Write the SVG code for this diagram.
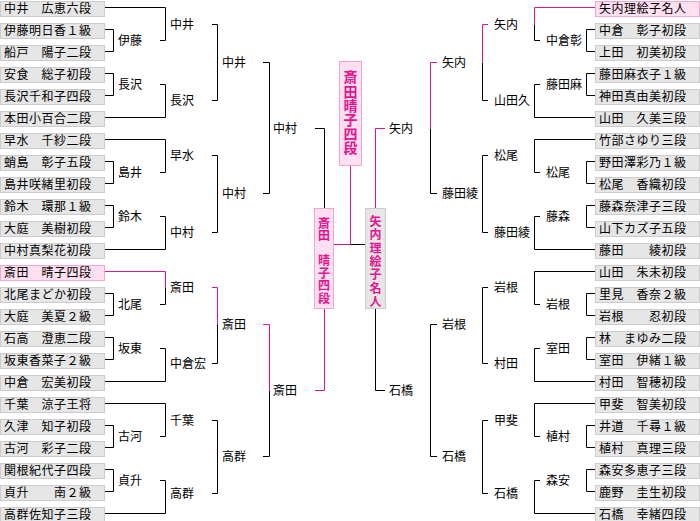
<svg xmlns="http://www.w3.org/2000/svg" width="700" height="521" viewBox="0 0 700 521">
<style>
text{font-family:"Noto Sans CJK JP","Noto Sans CJK SC",sans-serif;font-size:12px;fill:#000}
.bx{fill:#e6e6e6;stroke:#cccccc;stroke-width:1}
.pk{fill:#ffdff0;stroke:#f2a6d2;stroke-width:1}
.b{fill:none;stroke:#000;stroke-width:1}
.p{fill:none;stroke:#e5138e;stroke-width:1}
.v{fill:#e5138e;font-weight:bold;writing-mode:vertical-rl;text-orientation:upright}
.v14{font-size:14px}
</style>
<rect width="700" height="521" fill="#fff"/>
<g id="left-players">
<g id="L0"><rect class="bx" x="0.5" y="1.5" width="104" height="15"/><text x="4" y="13" textLength="87" lengthAdjust="spacing">中井　広恵六段</text></g>
<g id="L1"><rect class="bx" x="0.5" y="23.5" width="104" height="15"/><text x="4" y="35" textLength="87" lengthAdjust="spacing">伊藤明日香１級</text></g>
<g id="L2"><rect class="bx" x="0.5" y="45.5" width="104" height="15"/><text x="4" y="57" textLength="87" lengthAdjust="spacing">船戸　陽子二段</text></g>
<g id="L3"><rect class="bx" x="0.5" y="67.5" width="104" height="15"/><text x="4" y="79" textLength="87" lengthAdjust="spacing">安食　総子初段</text></g>
<g id="L4"><rect class="bx" x="0.5" y="89.5" width="104" height="15"/><text x="4" y="101" textLength="87" lengthAdjust="spacing">長沢千和子四段</text></g>
<g id="L5"><rect class="bx" x="0.5" y="111.5" width="104" height="15"/><text x="4" y="123" textLength="87" lengthAdjust="spacing">本田小百合二段</text></g>
<g id="L6"><rect class="bx" x="0.5" y="133.5" width="104" height="15"/><text x="4" y="145" textLength="87" lengthAdjust="spacing">早水　千紗二段</text></g>
<g id="L7"><rect class="bx" x="0.5" y="155.5" width="104" height="15"/><text x="4" y="167" textLength="87" lengthAdjust="spacing">蛸島　彰子五段</text></g>
<g id="L8"><rect class="bx" x="0.5" y="177.5" width="104" height="15"/><text x="4" y="189" textLength="87" lengthAdjust="spacing">島井咲緒里初段</text></g>
<g id="L9"><rect class="bx" x="0.5" y="199.5" width="104" height="15"/><text x="4" y="211" textLength="87" lengthAdjust="spacing">鈴木　環那１級</text></g>
<g id="L10"><rect class="bx" x="0.5" y="221.5" width="104" height="15"/><text x="4" y="233" textLength="87" lengthAdjust="spacing">大庭　美樹初段</text></g>
<g id="L11"><rect class="bx" x="0.5" y="243.5" width="104" height="15"/><text x="4" y="255" textLength="87" lengthAdjust="spacing">中村真梨花初段</text></g>
<g id="L12"><rect class="pk" x="0.5" y="265.5" width="104" height="15"/><text x="4" y="277" textLength="87" lengthAdjust="spacing">斎田　晴子四段</text></g>
<g id="L13"><rect class="bx" x="0.5" y="287.5" width="104" height="15"/><text x="4" y="299" textLength="87" lengthAdjust="spacing">北尾まどか初段</text></g>
<g id="L14"><rect class="bx" x="0.5" y="309.5" width="104" height="15"/><text x="4" y="321" textLength="87" lengthAdjust="spacing">大庭　美夏２級</text></g>
<g id="L15"><rect class="bx" x="0.5" y="331.5" width="104" height="15"/><text x="4" y="343" textLength="87" lengthAdjust="spacing">石高　澄恵二段</text></g>
<g id="L16"><rect class="bx" x="0.5" y="353.5" width="104" height="15"/><text x="4" y="365" textLength="87" lengthAdjust="spacing">坂東香菜子２級</text></g>
<g id="L17"><rect class="bx" x="0.5" y="375.5" width="104" height="15"/><text x="4" y="387" textLength="87" lengthAdjust="spacing">中倉　宏美初段</text></g>
<g id="L18"><rect class="bx" x="0.5" y="397.5" width="104" height="15"/><text x="4" y="409" textLength="87" lengthAdjust="spacing">千葉　涼子王将</text></g>
<g id="L19"><rect class="bx" x="0.5" y="419.5" width="104" height="15"/><text x="4" y="431" textLength="87" lengthAdjust="spacing">久津　知子初段</text></g>
<g id="L20"><rect class="bx" x="0.5" y="441.5" width="104" height="15"/><text x="4" y="453" textLength="87" lengthAdjust="spacing">古河　彩子二段</text></g>
<g id="L21"><rect class="bx" x="0.5" y="463.5" width="104" height="15"/><text x="4" y="475" textLength="87" lengthAdjust="spacing">関根紀代子四段</text></g>
<g id="L22"><rect class="bx" x="0.5" y="485.5" width="104" height="15"/><text x="4" y="497" textLength="87" lengthAdjust="spacing">貞升　　南２級</text></g>
<g id="L23"><rect class="bx" x="0.5" y="507.5" width="104" height="15"/><text x="4" y="519" textLength="87" lengthAdjust="spacing">高群佐知子三段</text></g>
</g>
<g id="right-players">
<g id="R0"><rect class="pk" x="595.5" y="1.5" width="104" height="15"/><text x="599" y="13" textLength="87" lengthAdjust="spacing">矢内理絵子名人</text></g>
<g id="R1"><rect class="bx" x="595.5" y="23.5" width="104" height="15"/><text x="599" y="35" textLength="87" lengthAdjust="spacing">中倉　彰子初段</text></g>
<g id="R2"><rect class="bx" x="595.5" y="45.5" width="104" height="15"/><text x="599" y="57" textLength="87" lengthAdjust="spacing">上田　初美初段</text></g>
<g id="R3"><rect class="bx" x="595.5" y="67.5" width="104" height="15"/><text x="599" y="79" textLength="87" lengthAdjust="spacing">藤田麻衣子１級</text></g>
<g id="R4"><rect class="bx" x="595.5" y="89.5" width="104" height="15"/><text x="599" y="101" textLength="87" lengthAdjust="spacing">神田真由美初段</text></g>
<g id="R5"><rect class="bx" x="595.5" y="111.5" width="104" height="15"/><text x="599" y="123" textLength="87" lengthAdjust="spacing">山田　久美三段</text></g>
<g id="R6"><rect class="bx" x="595.5" y="133.5" width="104" height="15"/><text x="599" y="145" textLength="87" lengthAdjust="spacing">竹部さゆり三段</text></g>
<g id="R7"><rect class="bx" x="595.5" y="155.5" width="104" height="15"/><text x="599" y="167" textLength="87" lengthAdjust="spacing">野田澤彩乃１級</text></g>
<g id="R8"><rect class="bx" x="595.5" y="177.5" width="104" height="15"/><text x="599" y="189" textLength="87" lengthAdjust="spacing">松尾　香織初段</text></g>
<g id="R9"><rect class="bx" x="595.5" y="199.5" width="104" height="15"/><text x="599" y="211" textLength="87" lengthAdjust="spacing">藤森奈津子三段</text></g>
<g id="R10"><rect class="bx" x="595.5" y="221.5" width="104" height="15"/><text x="599" y="233" textLength="87" lengthAdjust="spacing">山下カズ子五段</text></g>
<g id="R11"><rect class="bx" x="595.5" y="243.5" width="104" height="15"/><text x="599" y="255" textLength="87" lengthAdjust="spacing">藤田　　綾初段</text></g>
<g id="R12"><rect class="bx" x="595.5" y="265.5" width="104" height="15"/><text x="599" y="277" textLength="87" lengthAdjust="spacing">山田　朱未初段</text></g>
<g id="R13"><rect class="bx" x="595.5" y="287.5" width="104" height="15"/><text x="599" y="299" textLength="87" lengthAdjust="spacing">里見　香奈２級</text></g>
<g id="R14"><rect class="bx" x="595.5" y="309.5" width="104" height="15"/><text x="599" y="321" textLength="87" lengthAdjust="spacing">岩根　　忍初段</text></g>
<g id="R15"><rect class="bx" x="595.5" y="331.5" width="104" height="15"/><text x="599" y="343" textLength="87" lengthAdjust="spacing">林　まゆみ二段</text></g>
<g id="R16"><rect class="bx" x="595.5" y="353.5" width="104" height="15"/><text x="599" y="365" textLength="87" lengthAdjust="spacing">室田　伊緒１級</text></g>
<g id="R17"><rect class="bx" x="595.5" y="375.5" width="104" height="15"/><text x="599" y="387" textLength="87" lengthAdjust="spacing">村田　智穂初段</text></g>
<g id="R18"><rect class="bx" x="595.5" y="397.5" width="104" height="15"/><text x="599" y="409" textLength="87" lengthAdjust="spacing">甲斐　智美初段</text></g>
<g id="R19"><rect class="bx" x="595.5" y="419.5" width="104" height="15"/><text x="599" y="431" textLength="87" lengthAdjust="spacing">井道　千尋１級</text></g>
<g id="R20"><rect class="bx" x="595.5" y="441.5" width="104" height="15"/><text x="599" y="453" textLength="87" lengthAdjust="spacing">植村　真理三段</text></g>
<g id="R21"><rect class="bx" x="595.5" y="463.5" width="104" height="15"/><text x="599" y="475" textLength="87" lengthAdjust="spacing">森安多恵子三段</text></g>
<g id="R22"><rect class="bx" x="595.5" y="485.5" width="104" height="15"/><text x="599" y="497" textLength="87" lengthAdjust="spacing">鹿野　圭生初段</text></g>
<g id="R23"><rect class="bx" x="595.5" y="507.5" width="104" height="15"/><text x="599" y="519" textLength="87" lengthAdjust="spacing">石橋　幸緒四段</text></g>
</g>
<g id="connectors">
<path class="b" d="M105 29.5H113.5V51.5H105M105 73.5H113.5V95.5H105M105 161.5H113.5V183.5H105M105 205.5H113.5V227.5H105M105 293.5H113.5V315.5H105M105 337.5H113.5V359.5H105M105 425.5H113.5V447.5H105M105 469.5H113.5V491.5H105"/>
<path class="b" d="M105 7.5H165.5V40.5H160M160 84.5H165.5V117.5H105M105 139.5H165.5V172.5H160M160 216.5H165.5V249.5H105M165.5 287.5V304.5H160M160 348.5H165.5V381.5H105M105 403.5H165.5V436.5H160M160 480.5H165.5V513.5H105"/>
<path class="p" d="M105 271.5H165.5V287.5"/>
<path class="b" d="M212 24.5H217.5V100.5H212M212 155.5H217.5V232.5H212M217.5 324.5V363.5H212M212 420.5H217.5V493.5H212"/>
<path class="p" d="M212 287.5H217.5V324.5"/>
<path class="b" d="M263 62.5H269.5V193.5H263M269.5 390.5V456.5H263"/>
<path class="p" d="M263 324.5H269.5V390.5"/>
<path class="b" d="M315 128.5H324.5V208"/>
<path class="p" d="M315 390.5H324.5V309"/>
<path class="b" d="M595 29.5H586.5V51.5H595M595 73.5H586.5V95.5H595M595 161.5H586.5V183.5H595M595 205.5H586.5V227.5H595M595 293.5H586.5V315.5H595M595 337.5H586.5V359.5H595M595 425.5H586.5V447.5H595M595 469.5H586.5V491.5H595"/>
<path class="b" d="M534.5 24.5V40.5H540M540 84.5H534.5V117.5H595M595 139.5H534.5V172.5H540M540 216.5H534.5V249.5H595M595 271.5H534.5V304.5H540M540 348.5H534.5V381.5H595M595 403.5H534.5V436.5H540M540 480.5H534.5V513.5H595"/>
<path class="p" d="M595 7.5H534.5V24.5"/>
<path class="b" d="M482.5 62.5V100.5H488M488 155.5H482.5V232.5H488M488 287.5H482.5V363.5H488M488 420.5H482.5V493.5H488"/>
<path class="p" d="M488 24.5H482.5V62.5"/>
<path class="b" d="M430.5 128.5V193.5H437M437 324.5H430.5V456.5H437"/>
<path class="p" d="M437 62.5H430.5V128.5"/>
<path class="b" d="M375.5 309V390.5H385"/>
<path class="p" d="M385 128.5H375.5V208"/>
<path class="p" d="M334 244.5H350.5M350.5 166V244.5"/>
<path class="b" d="M350.5 244.5H365"/>
</g>
<g id="left-labels">
<text x="118" y="45">伊藤</text><text x="118" y="89">長沢</text><text x="118" y="177">島井</text><text x="118" y="221">鈴木</text>
<text x="118" y="309">北尾</text><text x="118" y="353">坂東</text><text x="118" y="441">古河</text><text x="118" y="485">貞升</text>
<text x="170" y="29">中井</text><text x="170" y="105">長沢</text><text x="170" y="160">早水</text><text x="170" y="237">中村</text>
<text x="170" y="292">斎田</text><text x="170" y="368">中倉宏</text><text x="170" y="425">千葉</text><text x="170" y="498">高群</text>
<text x="222" y="67">中井</text><text x="222" y="198">中村</text><text x="222" y="329">斎田</text><text x="222" y="461">高群</text>
<text x="273" y="133">中村</text><text x="273" y="395">斎田</text>
</g>
<g id="right-labels">
<text x="546" y="45">中倉彰</text><text x="546" y="89">藤田麻</text><text x="546" y="177">松尾</text><text x="546" y="221">藤森</text>
<text x="546" y="309">岩根</text><text x="546" y="353">室田</text><text x="546" y="441">植村</text><text x="546" y="485">森安</text>
<text x="494" y="29">矢内</text><text x="494" y="105">山田久</text><text x="494" y="160">松尾</text><text x="494" y="237">藤田綾</text>
<text x="494" y="292">岩根</text><text x="494" y="368">村田</text><text x="494" y="425">甲斐</text><text x="494" y="498">石橋</text>
<text x="442" y="67">矢内</text><text x="442" y="198">藤田綾</text><text x="442" y="329">岩根</text><text x="442" y="461">石橋</text>
<text x="389" y="133">矢内</text><text x="389" y="395">石橋</text>
</g>
<g id="champion">
<rect class="pk" x="339.5" y="61.5" width="22" height="104"/>
<text class="v v14" x="350.5" y="70" letter-spacing="0.2">斎田晴子四段</text>
</g>
<g id="semi-left">
<rect class="pk" x="314.5" y="208.5" width="19" height="100"/>
<text class="v" x="324" y="217" letter-spacing="0.5">斎田　晴子四段</text>
</g>
<g id="semi-right">
<rect class="bx" x="365.5" y="208.5" width="20" height="100"/>
<text class="v" x="375.5" y="215.5" letter-spacing="1.3">矢内理絵子名人</text>
</g>
</svg>
